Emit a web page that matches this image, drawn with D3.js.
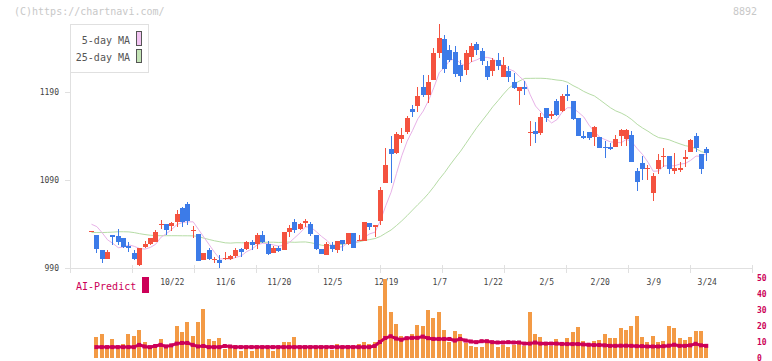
<!DOCTYPE html>
<html>
<head>
<meta charset="utf-8">
<script src="https://cdn.jsdelivr.net/npm/d3@7"></script>
<style>
  html, body { margin: 0; padding: 0; background: #fff; }
  svg { display: block; }
</style>
</head>
<body>
<svg id="chart" width="772" height="361"></svg>
<script>
const FONT = "'DejaVu Sans Mono', monospace";

// daily candles, index 0 .. 115
const open  = [1032,1027.5,1010.5,1000.2,1027.5,1026.4,1024.4,1015.3,1007.4,993.4,1013.5,1016.9,1019.9,1039.5,1040,1038.1,1042.6,1057.8,1062.7,1033,
  1028.3,999.1,1010.5,999.8,999.1,1000.8,999.9,1004,1011.2,1011.6,1019.9,1016.9,1027.5,1017.3,1006.7,1013.1,1010.5,1030.6,1042.6,1034.3,
  1041.5,1040,1027.5,1011.6,1004.8,1016.1,1010.5,1021.8,1016.9,1029.4,1021.5,1021,1041.5,1036.9,1043.8,1087,1124.9,1120.3,1136.6,1144.9,
  1170.7,1174.5,1196,1186.6,1203.6,1234,1250.2,1237.7,1235.8,1220.7,1215,1229.4,1244.5,1236.6,1219.5,1213.4,1226.4,1207.4,1213.4,1201.7,
  1190.6,1195.6,1144,1145.7,1143.1,1171.5,1163.1,1179.8,1168.4,1187.7,1179.8,1160.5,1140,1144.2,1138.5,1138.5,1127.8,1127.1,1127.8,1139.7,
  1136.2,1141.1,1100.2,1109,1103,1074.9,1102.5,1117,1117.3,1100.2,1101.4,1113.5,1122.2,1139.7,1119.5,1125.2];
const high  = [1032,1028,1010.5,1010.5,1027.5,1034.3,1024.4,1019.9,1010.5,1013.1,1020.7,1024.4,1033.2,1044.5,1040,1042,1055.9,1059.7,1065.3,1037.7,
  1028.3,1007,1012.7,1002.8,1004.8,1007.8,1004.8,1012.4,1013,1020.7,1021.8,1029.8,1032,1020.7,1015,1015,1031.2,1038.9,1045.3,1041,
  1045.3,1042.6,1027.5,1011.6,1019.2,1019.2,1020.7,1021.8,1029.4,1029.4,1027.5,1042.6,1041.5,1038.9,1081.7,1126,1140,1144.9,1148.8,1162.7,
  1175.2,1196,1209.3,1209.3,1239.7,1267.3,1254.8,1243.4,1242,1226.4,1237.7,1245.3,1246.4,1240.3,1225.2,1228.3,1234,1229.4,1219.2,1211.2,
  1195.6,1202.5,1157,1156.3,1166.1,1171.5,1168.8,1182,1187.7,1198,1179.8,1160.5,1146,1144.2,1151.4,1138.5,1134.7,1132.4,1141.1,1148,
  1147.6,1145.7,1103.3,1117.3,1107,1098.3,1119.5,1126,1117.3,1120.7,1110.8,1124.1,1136.6,1143.7,1119.5,1127.8];
const low   = [1032,1007,996,1000,1016.1,1016.1,1012.7,1008.5,999.1,992.6,1012.7,1016.1,1019.2,1034.3,1027.5,1032.4,1036.9,1036.9,1038.9,1024.1,
  998,999,999,995.3,990,999,999.1,1001.7,1002,1010.8,1010.5,1011.6,1018,1004.8,1006.7,1008.5,1010.5,1025.6,1029.4,1033.7,
  1036.9,1026.4,1011,1005.5,1004.8,1008.5,1007.4,1009.7,1016,1013,1020.7,1021,1033.2,1025.6,1038.9,1086.3,1087,1120,1131.7,1142,
  1161.9,1167.6,1184.7,1177.8,1203.6,1229,1211.2,1224.1,1207.4,1201.7,1209.3,1224,1232,1220.7,1203.6,1208.2,1215,1206.5,1201.7,1193.4,
  1175.2,1186.9,1128.6,1131.7,1141.1,1156.3,1159.3,1163.1,1167.6,1179.8,1158.2,1140,1136.2,1135.5,1128.2,1126,1115.3,1124.1,1127.1,1128.2,
  1128.2,1110.8,1077.5,1090,1090,1066.5,1096.5,1105.1,1096.5,1096.5,1099.4,1104.5,1121.5,1122.2,1097.1,1111.9];
const close = [1032,1011.2,1000.2,1008.5,1025.6,1019.9,1014.2,1013.1,1000.2,1013.1,1016.9,1023.7,1031.2,1040,1033.2,1041.5,1051.4,1042.6,1043.4,1033.5,
  998.3,1007,1000.2,1000,995.3,1001,1003.6,1010.5,1008.5,1019.2,1016.1,1027.5,1019.2,1005.9,1012.4,1009.7,1031.2,1035.8,1033.2,1040,
  1043.8,1028.6,1011.2,1005.9,1016.9,1011.2,1020.7,1017.3,1029.4,1013.1,1022,1042.6,1036.9,1038.9,1078.6,1107,1119.2,1142.3,1141.1,1160.8,
  1167.6,1185.5,1186.6,1201.7,1234.7,1251.7,1216.1,1226.4,1210.1,1208.5,1234,1242.3,1237.7,1225.2,1207.4,1226.4,1219.5,1220.7,1206.5,1195.1,
  1195.6,1192.9,1144.5,1141.9,1161.6,1160.8,1165,1163.9,1185.5,1185.8,1159.3,1140.3,1138.1,1138.1,1149.9,1126.7,1126.7,1125.2,1136.2,1146.8,
  1146.8,1110.8,1088.1,1102.5,1103.5,1094.5,1112.7,1117.5,1102.5,1104,1104,1115.8,1135.5,1126.7,1102.5,1120.3];

const ma5 = [1039.7,1037,1030,1022,1018,1013.1,1013.7,1016.3,1014.6,1012.1,1011.5,1013.4,1017,1025,1029,1033.9,1039.5,1041.7,1042.4,1042.5,
  1033.8,1025,1016.5,1007.8,1000.2,1000.7,1000,1002.1,1003.8,1008.6,1011.6,1016.4,1018.1,1017.6,1016.2,1014.9,1015.7,1019,1024.5,1030,
  1036.8,1036.3,1031.4,1025.9,1021.3,1014.8,1013.2,1014.4,1019.1,1018.3,1020.5,1024.9,1028.8,1030.7,1043.8,1060.8,1076.1,1097.2,1117.6,1134.1,
  1146.2,1159.5,1168.3,1180.4,1195.2,1212,1218.2,1226.1,1227.8,1222.6,1219,1224.3,1226.5,1229.5,1229.3,1227.8,1223.2,1219.8,1216.1,1213.6,
  1207.5,1202.2,1186.9,1174,1167.3,1160.3,1154.8,1158.6,1167.4,1172.2,1171.9,1167,1161.8,1152.3,1145.1,1138.6,1135.9,1133.3,1132.9,1132.3,
  1136.3,1133.2,1125.7,1119,1110.3,1099.9,1100.3,1106.1,1106.1,1106.2,1108.1,1108.8,1112.4,1117.2,1116.9,1120.2];
const ma25 = [1030.3,1030.3,1030.3,1030.5,1030.8,1031.2,1031.2,1031,1030.2,1029,1028,1027.2,1026.8,1026.7,1026.7,1026.7,1026.7,1026.6,1026.6,1026.5,
  1025.8,1023.9,1022.4,1020.9,1019.8,1018.6,1018.3,1018.7,1018.7,1018.5,1018.3,1018.8,1019.1,1019.3,1019.3,1019,1019.3,1019.5,1019.2,1019.5,
  1019.6,1018.7,1017.4,1015.9,1015.2,1015.8,1016.3,1017,1018.2,1018.9,1019.7,1021.3,1022.3,1023.5,1025.9,1029.6,1033.2,1038.2,1043.6,1049.5,
  1055.8,1062,1068,1074.8,1082.5,1090.9,1098.4,1107,1115.1,1122.8,1131.7,1140.6,1149.4,1157.2,1165,1173.2,1180.2,1187.6,1194.3,1199,
  1202.5,1205.5,1205.5,1205.6,1205.6,1205.3,1204.5,1203.6,1203,1201,1197.3,1194.3,1190.7,1187.9,1185.5,1181.2,1176.6,1172.1,1168.5,1166.1,
  1162.9,1158.6,1153.3,1149.1,1145.5,1141.4,1138.2,1137.1,1135.6,1133.2,1131,1129,1127.9,1125.5,1122.2,1120.6];

// volume pane
const volume = [0,13,14.7,5.7,11.6,5.7,9,14.7,14,17.8,9.9,6.1,6.8,11.6,8.2,8.2,20.3,16.1,22.8,14,
  22.4,30.9,11.6,10.9,12.8,5.7,8.4,8.4,4.3,6.8,4.3,5.7,5.7,5.7,4.3,5.7,9.9,9.9,13,6.8,
  6.8,6.8,6.8,5.7,5.7,5.2,9,6.8,8.4,6.8,8.8,10.3,8.8,10.3,32.8,49.3,28.6,21.4,14,13,
  15.1,20.9,20.3,29.7,24.9,28.6,17.6,9.9,16.8,15.1,9.3,7.8,6.8,6.8,9.9,8.9,6.8,8.4,6.8,8.4,
  10.9,7.8,28.6,15.1,13,9.9,7.2,11.6,9.9,12.4,16.1,19.3,10.9,8.9,10.5,11.2,14.7,12.4,12.4,18.6,
  17.8,20.3,26.1,13,9.9,14,9.9,10.5,20.3,18.6,12.4,11.2,13.4,16.8,16.8,8.9];
const aiPredict = [null,6.8,6.8,6.8,6.8,6.8,6.8,6.8,6.8,8.2,7.2,6.8,7.5,8.2,7.2,7.9,9,9.4,9.4,8.2,
  7.2,7.5,6.8,6.8,6.8,7.5,7.2,6.8,6.8,6.8,6.8,6.8,6.8,6.8,6.8,6.8,6.8,6.8,6.8,6.8,
  6.8,6.8,6.8,6.8,6.8,6.8,6.8,6.8,6.8,6.8,6.8,6.8,6.8,7.5,10,12.5,13.6,12.2,11.4,12.4,
  12.6,12.6,13.4,12.4,11.9,11.9,11.9,11.9,10.9,11.9,10.9,10.3,9.9,10.5,10.5,9.9,9.7,9.7,9.9,9.7,
  9.7,9,9,9.7,9,9,9,9,8.8,8.7,8.7,8.7,8.5,8.3,8.1,8.1,7.9,7.6,7.6,7.7,
  7.7,7.6,7.4,7.4,7.2,7.2,7.2,7.4,7.7,8.3,7.6,7.6,7.9,8.9,7.9,7.6];

const dateIdx = [15, 25, 35, 45, 55, 65, 75, 85, 95, 105, 115];
const dateLabels = ["10/22", "11/6", "11/20", "12/5", "12/19", "1/7", "1/22", "2/5", "2/20", "3/9", "3/24"];
const priceTicks = [990, 1090, 1190];
const volTicks = [0, 10, 20, 30, 40, 50];

const RED = "#f4523f", BLUE = "#3c7be8", AXIS = "#e0e0e0", AI = "#cc0058";

const svg = d3.select("#chart");
const n = close.length;

const x = d3.scaleLinear().domain([0, n - 1]).range([92, 707.25]);
const y = d3.scaleLinear().domain([990, 1190]).range([268, 92]);
const yv = d3.scaleLinear().domain([0, 50]).range([358, 278]);
const grid = d3.scaleLinear().domain([0, 11]).range([70, 752]);
const cx = i => Math.round(x(i));

// header texts
svg.append("text").attr("x", 14).attr("y", 15)
  .style("font-family", FONT).style("font-size", "10px").style("fill", "#c8c8c8")
  .text("(C)https://chartnavi.com/");
svg.append("text").attr("x", 757).attr("y", 15).attr("text-anchor", "end")
  .style("font-family", FONT).style("font-size", "10px").style("fill", "#c8c8c8")
  .text("8892");

// axes frame
svg.append("line").attr("x1", 70.5).attr("x2", 70.5).attr("y1", 24).attr("y2", 268.5)
  .attr("stroke", AXIS);
svg.append("line").attr("x1", 70).attr("x2", grid(11)).attr("y1", 268.5).attr("y2", 268.5)
  .attr("stroke", AXIS);
svg.append("g").selectAll("line").data(d3.range(12)).join("line")
  .attr("x1", d => Math.round(grid(d)) + 0.5).attr("x2", d => Math.round(grid(d)) + 0.5)
  .attr("y1", 265).attr("y2", 273).attr("stroke", AXIS);

const yAx = svg.append("g");
yAx.selectAll("line").data(priceTicks).join("line")
  .attr("x1", 65).attr("x2", 70).attr("y1", d => Math.round(y(d)) + 0.5).attr("y2", d => Math.round(y(d)) + 0.5)
  .attr("stroke", AXIS);
yAx.selectAll("text").data(priceTicks).join("text")
  .attr("x", 59).attr("y", d => y(d) + 3).attr("text-anchor", "end")
  .style("font-family", FONT).style("font-size", "8px").style("fill", "#444")
  .text(d => d);

svg.append("g").selectAll("text").data(dateIdx).join("text")
  .attr("x", d => x(d)).attr("y", 285).attr("text-anchor", "middle")
  .style("font-family", FONT).style("font-size", "8px").style("fill", "#444")
  .text((d, i) => dateLabels[i]);

// moving averages
const maLine = d3.line().x((d, i) => x(i) - 0.5).y(d => y(d));
svg.append("path").attr("d", maLine(ma25)).attr("fill", "none")
  .attr("stroke", "#b6dca6").attr("stroke-width", 1);
svg.append("path").attr("d", maLine(ma5)).attr("fill", "none")
  .attr("stroke", "#e8b2e8").attr("stroke-width", 1);

// candles
const cg = svg.append("g").attr("shape-rendering", "crispEdges");
d3.range(n).forEach(i => {
  const col = close[i] >= open[i] ? RED : BLUE;
  const c = cx(i);
  cg.append("line")
    .attr("x1", c - 0.5).attr("x2", c - 0.5)
    .attr("y1", y(high[i])).attr("y2", y(low[i]))
    .attr("stroke", col).attr("stroke-width", 1);
  const top = Math.min(y(open[i]), y(close[i]));
  const bh = Math.max(1, Math.abs(y(open[i]) - y(close[i])));
  cg.append("rect")
    .attr("x", c - 3).attr("y", top)
    .attr("width", 5).attr("height", bh)
    .attr("fill", col);
});

// legend
const leg = svg.append("g");
leg.append("rect").attr("x", 70.5).attr("y", 24.5).attr("width", 78).attr("height", 48)
  .attr("fill", "#fff").attr("stroke", AXIS);
[["5-day MA", "#f2c4f2", 31.5, 14, 43.5], ["25-day MA", "#c4e4b6", 49.5, 13, 61]].forEach(([lbl, col, ry, rh, ty]) => {
  leg.append("text").attr("x", 130).attr("y", ty).attr("text-anchor", "end")
    .style("font-family", FONT).style("font-size", "10px").style("fill", "#555")
    .text(lbl);
  leg.append("rect").attr("x", 136.5).attr("y", ry).attr("width", 5).attr("height", rh)
    .attr("fill", col).attr("stroke", "#555");
});

// volume pane
svg.append("text").attr("x", 76).attr("y", 290)
  .style("font-family", FONT).style("font-size", "10px").style("fill", AI)
  .text("AI-Predict");
svg.append("rect").attr("x", 142).attr("y", 277).attr("width", 7).attr("height", 16).attr("fill", AI);

svg.append("g").attr("shape-rendering", "crispEdges")
  .selectAll("rect").data(volume).join("rect")
  .attr("x", (d, i) => cx(i) - 3).attr("y", d => yv(d))
  .attr("width", 4).attr("height", d => yv(0) - yv(d))
  .attr("fill", "#f39a45");

const aiData = aiPredict.map((v, i) => ({ i, v })).filter(d => d.v !== null);
svg.append("path").datum(aiData)
  .attr("d", d3.line().x(d => x(d.i) - 1).y(d => yv(d.v)))
  .attr("fill", "none").attr("stroke", AI).attr("stroke-width", 3);
svg.append("g").selectAll("rect").data(aiData).join("rect")
  .attr("x", d => x(d.i) - 3).attr("y", d => yv(d.v) - 2)
  .attr("width", 4).attr("height", 4).attr("fill", AI);

svg.append("g").selectAll("text").data(volTicks).join("text")
  .attr("x", 757).attr("y", d => yv(d) + 2.5)
  .style("font-family", FONT).style("font-size", "8px").style("font-weight", "bold").style("fill", AI)
  .text(d => d);
</script>
</body>
</html>
